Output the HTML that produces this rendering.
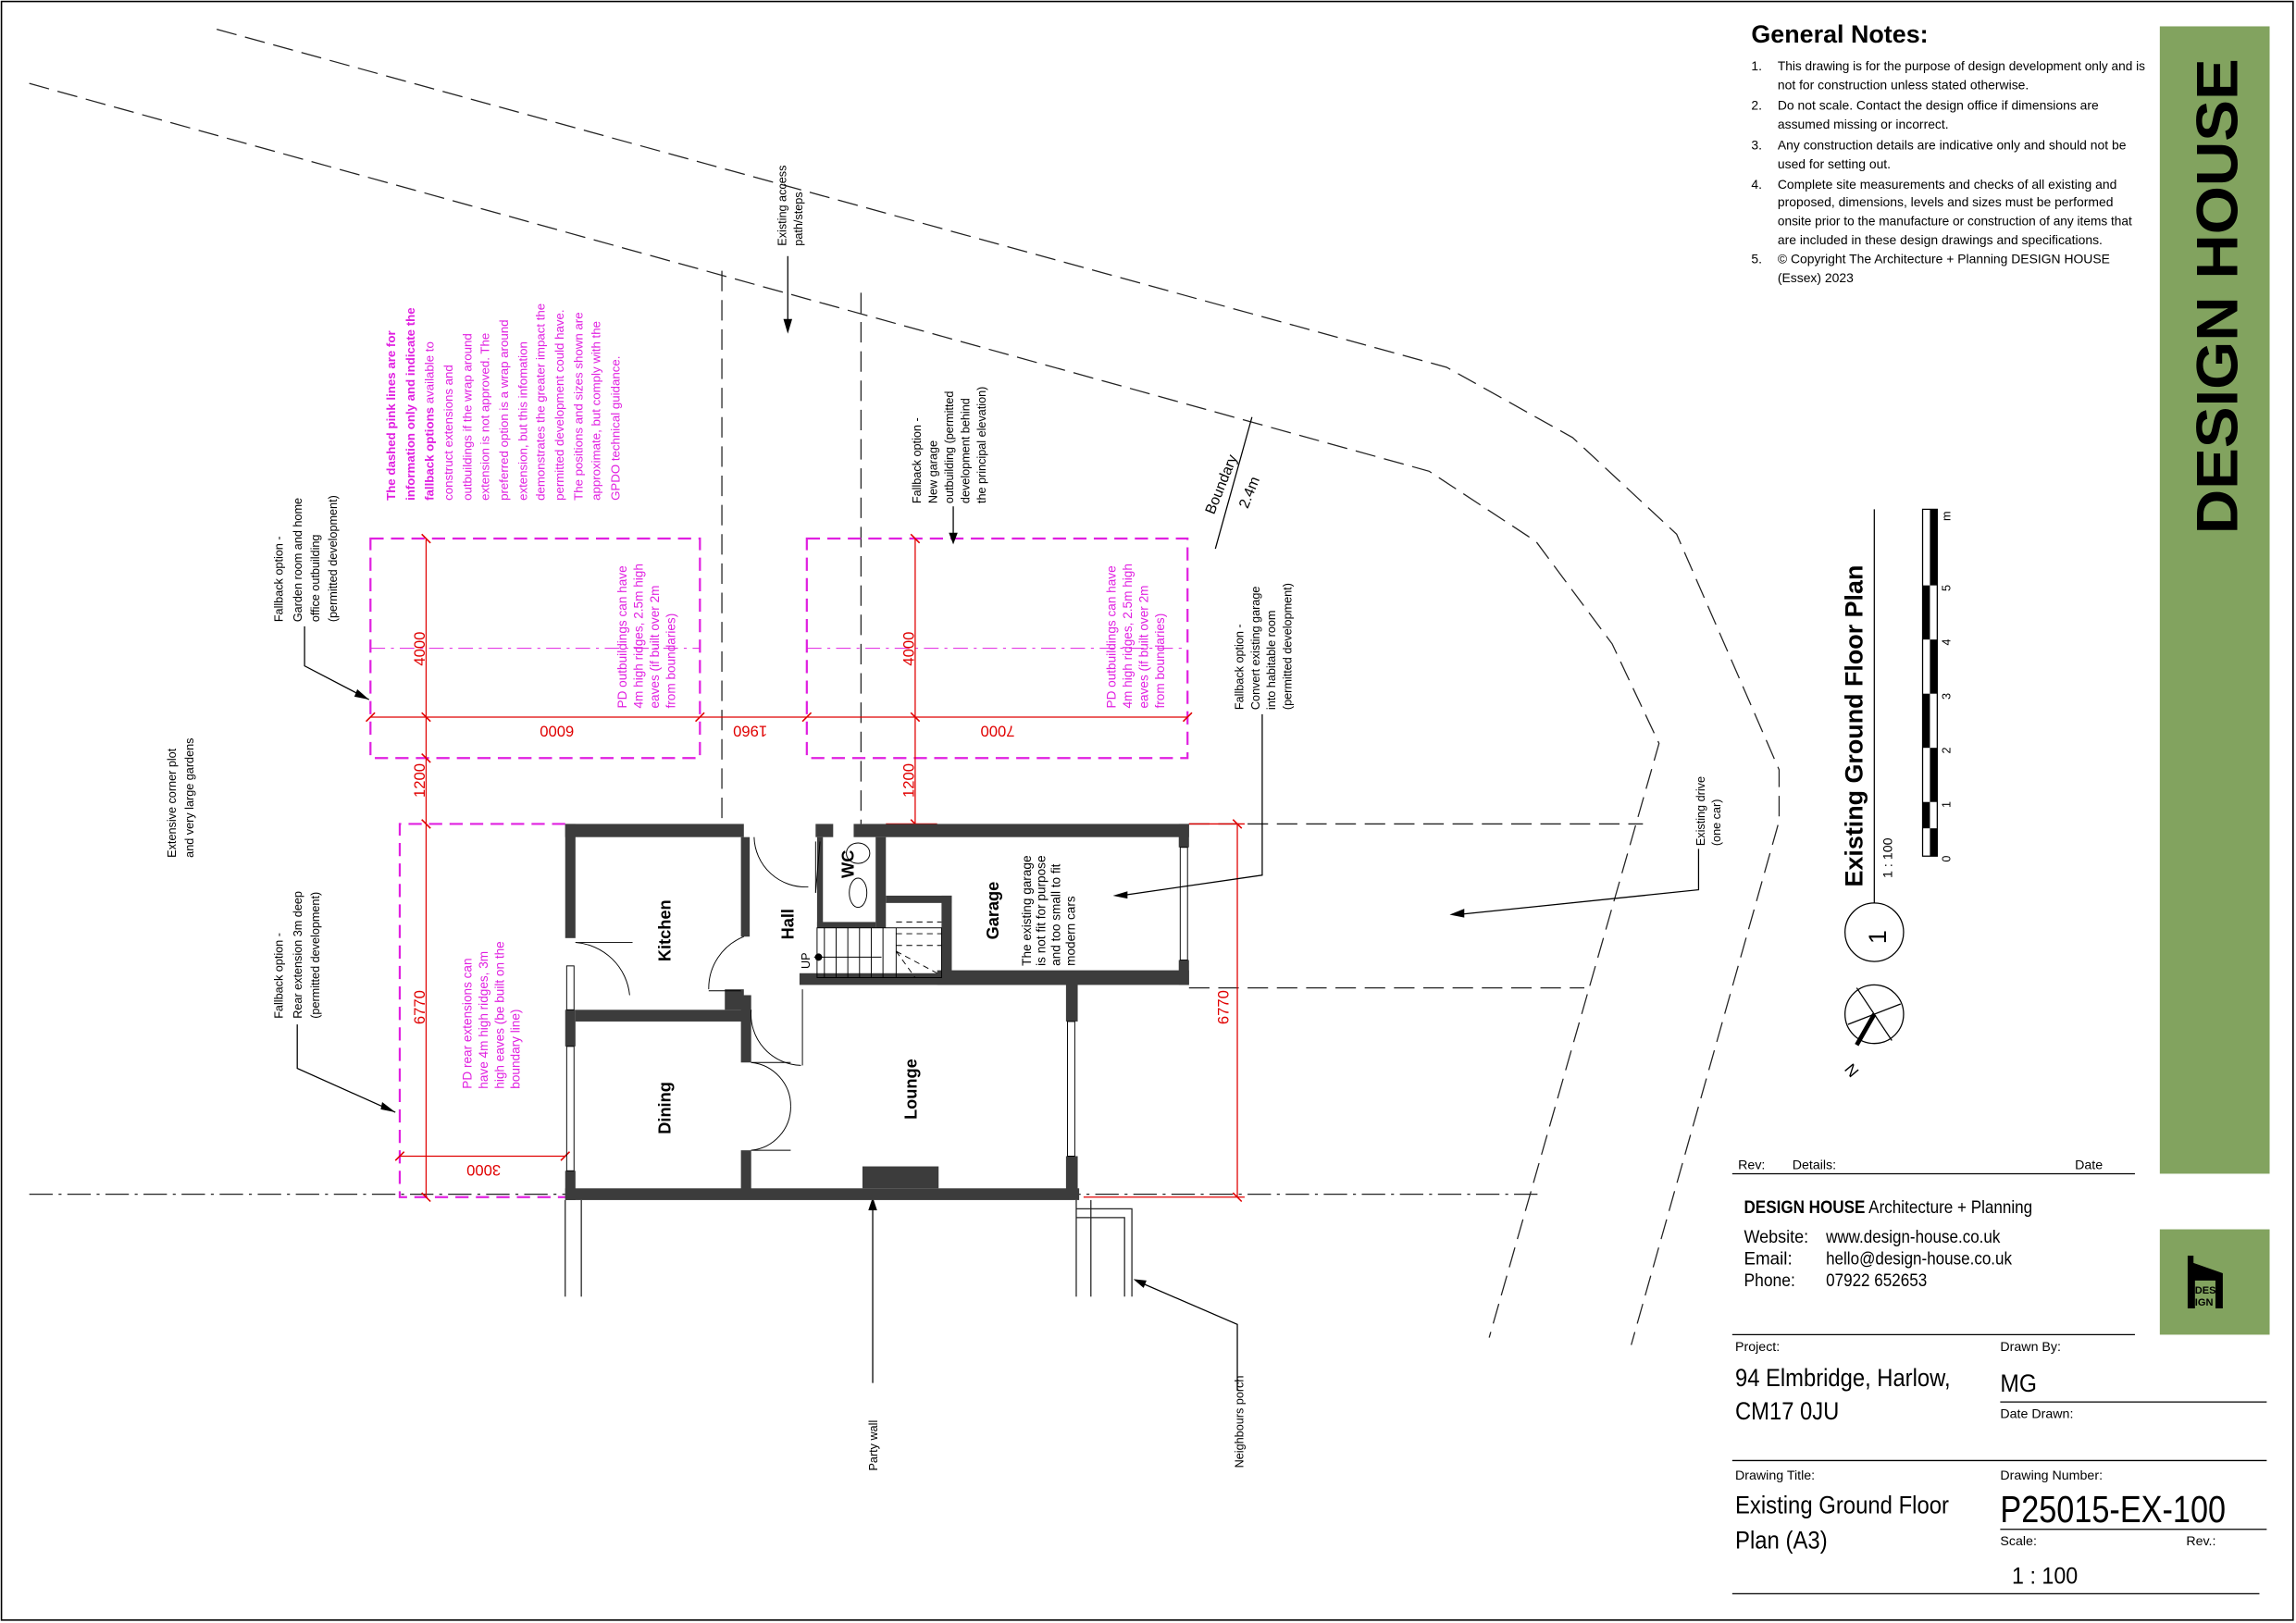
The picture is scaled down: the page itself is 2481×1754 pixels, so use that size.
<!DOCTYPE html>
<html><head><meta charset="utf-8"><style>
html,body{margin:0;padding:0;background:#fff}
svg{display:block}
text{font-family:"Liberation Sans",sans-serif}
.n{font-family:"Liberation Sans Narrow","Liberation Sans",sans-serif;font-size:8px;fill:#000}
.p{font-family:"Liberation Sans Narrow","Liberation Sans",sans-serif;font-size:8.6px;fill:#e020e0}
.r{font-size:10.5px;fill:#e00000}
.g{font-size:8.8px;fill:#000}
.w{fill:#3c3c3c}
.rb{font-weight:bold;font-size:11.5px;fill:#000}
</style></head><body>
<svg width="2481" height="1754" viewBox="0 0 1568 1109" preserveAspectRatio="none" xmlns="http://www.w3.org/2000/svg">
<rect x="0" y="0" width="1568" height="1109" fill="#fff"/>
<rect x="1" y="1" width="1565" height="1106" fill="none" stroke="#000" stroke-width="1"/>

<g fill="none" stroke="#222" stroke-width="0.8" stroke-dasharray="14,6">
<polyline points="148,20 988,251 1074,299 1145,365 1215,526 1215,561 1114,919"/>
<polyline points="20,57 976,322 1049,370 1101,440 1133,508 1017,914"/>
<line x1="493" y1="185" x2="493" y2="563"/>
<line x1="588" y1="200" x2="588" y2="563"/>
<line x1="812" y1="563" x2="1122" y2="563"/>
<line x1="812" y1="675" x2="1082" y2="675"/>
</g>
<line x1="20" y1="816" x2="1052" y2="816" stroke="#222" stroke-width="0.8" stroke-dasharray="16,4,2,4"/>

<g stroke="#222" stroke-width="0.8" fill="none">
<line x1="386" y1="820" x2="386" y2="886"/><line x1="397" y1="820" x2="397" y2="886"/>
<line x1="735" y1="820" x2="735" y2="886"/><line x1="745" y1="820" x2="745" y2="886"/>
<polyline points="735,826 773,826 773,886"/><polyline points="735,832 768,832 768,886"/>
</g>

<g fill="none" stroke="#e020e0" stroke-width="1.4" stroke-dasharray="9,5">
<rect x="253" y="368" width="225" height="150"/>
<rect x="551" y="368" width="260" height="150"/>
<polyline points="386,563 273,563 273,818 386,818"/>
</g>
<g stroke="#e020e0" stroke-width="0.6" stroke-dasharray="10,4,2,4">
<line x1="253" y1="443" x2="478" y2="443"/><line x1="551" y1="443" x2="811" y2="443"/>
</g>

<g stroke="#e00000" stroke-width="0.8">
<line x1="291" y1="368" x2="291" y2="818"/>
<line x1="625" y1="368" x2="625" y2="563"/>
<line x1="845" y1="563" x2="845" y2="818"/>
<line x1="253" y1="490" x2="811" y2="490"/>
<line x1="273" y1="790" x2="386" y2="790"/>
<line x1="812" y1="563" x2="850" y2="563"/><line x1="740" y1="818" x2="850" y2="818"/>
<line x1="605" y1="563" x2="640" y2="563"/>
</g>
<g stroke="#e00000" stroke-width="1">
<line x1="288" y1="365" x2="294" y2="371"/><line x1="288" y1="487" x2="294" y2="493"/><line x1="288" y1="515" x2="294" y2="521"/><line x1="288" y1="560" x2="294" y2="566"/><line x1="288" y1="815" x2="294" y2="821"/>
<line x1="622" y1="365" x2="628" y2="371"/><line x1="622" y1="487" x2="628" y2="493"/><line x1="622" y1="560" x2="628" y2="566"/>
<line x1="842" y1="560" x2="848" y2="566"/><line x1="842" y1="815" x2="848" y2="821"/>
<line x1="250" y1="493" x2="256" y2="487"/><line x1="475" y1="493" x2="481" y2="487"/><line x1="548" y1="493" x2="554" y2="487"/><line x1="808" y1="493" x2="814" y2="487"/>
<line x1="270" y1="793" x2="276" y2="787"/><line x1="383" y1="793" x2="389" y2="787"/>
</g>
<g class="r">
<text transform="translate(290,455) rotate(-90)">4000</text>
<text transform="translate(624,455) rotate(-90)">4000</text>
<text transform="translate(290,545) rotate(-90)">1200</text>
<text transform="translate(624,545) rotate(-90)">1200</text>
<text transform="translate(290,700) rotate(-90)">6770</text>
<text transform="translate(839,700) rotate(-90)">6770</text>
<text transform="translate(392,496) rotate(180)">6000</text>
<text transform="translate(693,496) rotate(180)">7000</text>
<text transform="translate(524,496) rotate(180)">1960</text>
<text transform="translate(342,796) rotate(180)">3000</text>
</g>

<g class="p" style="font-size:8.4px">
<text transform="translate(270,342) rotate(-90)" font-weight="bold">The dashed pink lines are for</text>
<text transform="translate(283,342) rotate(-90)" font-weight="bold">information only and indicate the</text>
<text transform="translate(296,342) rotate(-90)"><tspan font-weight="bold">fallback options</tspan> available to</text>
<text transform="translate(309,342) rotate(-90)">construct extensions and</text>
<text transform="translate(322,342) rotate(-90)">outbuildings if the wrap around</text>
<text transform="translate(334,342) rotate(-90)">extension is not approved. The</text>
<text transform="translate(347,342) rotate(-90)">preferred option is a wrap around</text>
<text transform="translate(360,342) rotate(-90)">extension, but this infomation</text>
<text transform="translate(372,342) rotate(-90)">demonstrates the greater impact the</text>
<text transform="translate(385,342) rotate(-90)">permitted development could have.</text>
<text transform="translate(398,342) rotate(-90)">The positions and sizes shown are</text>
<text transform="translate(410,342) rotate(-90)">approximate, but comply with the</text>
<text transform="translate(423,342) rotate(-90)">GPDO technical guidance.</text>
</g>
<g class="p">
<text transform="translate(428,484) rotate(-90)">PD outbuildings can have</text>
<text transform="translate(439,484) rotate(-90)">4m high ridges, 2.5m high</text>
<text transform="translate(450,484) rotate(-90)">eaves (if built over 2m</text>
<text transform="translate(461,484) rotate(-90)">from boundaries)</text>
<text transform="translate(762,484) rotate(-90)">PD outbuildings can have</text>
<text transform="translate(773,484) rotate(-90)">4m high ridges, 2.5m high</text>
<text transform="translate(784,484) rotate(-90)">eaves (if built over 2m</text>
<text transform="translate(795,484) rotate(-90)">from boundaries)</text>
<text transform="translate(322,744) rotate(-90)">PD rear extensions can</text>
<text transform="translate(333,744) rotate(-90)">have 4m high ridges, 3m</text>
<text transform="translate(344,744) rotate(-90)">high eaves (be built on the</text>
<text transform="translate(355,744) rotate(-90)">boundary line)</text>
</g>

<g class="n">
<text transform="translate(537,168) rotate(-90)">Existing access</text>
<text transform="translate(548,168) rotate(-90)">path/steps</text>
<text transform="translate(629,344) rotate(-90)">Fallback option -</text>
<text transform="translate(640,344) rotate(-90)">New garage</text>
<text transform="translate(651,344) rotate(-90)">outbuilding (permitted</text>
<text transform="translate(662,344) rotate(-90)">development behind</text>
<text transform="translate(673,344) rotate(-90)">the principal elevation)</text>
<text transform="translate(193,425) rotate(-90)">Fallback option -</text>
<text transform="translate(206,425) rotate(-90)">Garden room and home</text>
<text transform="translate(218,425) rotate(-90)">office outbuilding</text>
<text transform="translate(230,425) rotate(-90)">(permitted development)</text>
<text transform="translate(120,586) rotate(-90)">Extensive corner plot</text>
<text transform="translate(132,586) rotate(-90)">and very large gardens</text>
<text transform="translate(193,696) rotate(-90)">Fallback option -</text>
<text transform="translate(206,696) rotate(-90)">Rear extension 3m deep</text>
<text transform="translate(218,696) rotate(-90)">(permitted development)</text>
<text transform="translate(849,485) rotate(-90)">Fallback option -</text>
<text transform="translate(860,485) rotate(-90)">Convert existing garage</text>
<text transform="translate(871,485) rotate(-90)">into habitable room</text>
<text transform="translate(882,485) rotate(-90)">(permitted development)</text>
<text transform="translate(1164,578) rotate(-90)">Existing drive</text>
<text transform="translate(1175,578) rotate(-90)">(one car)</text>
<text transform="translate(599,1005) rotate(-90)">Party wall</text>
<text transform="translate(849,1003) rotate(-90)">Neighbours porch</text>
<text transform="translate(829,352) rotate(-68)" style="font-size:10px">Boundary</text>
<text transform="translate(852,348) rotate(-68)" style="font-size:10px">2.4m</text>
</g>
<g stroke="#000" stroke-width="0.8" fill="none">
<polyline points="208,428 208,455 252,478"/>
<polyline points="203,700 203,730 270,760"/>
<polyline points="538,175 538,222"/>
<polyline points="651,346 651,368"/>
<polyline points="862,488 862,598 765,612"/>
<polyline points="1160,580 1160,608 995,625"/>
<line x1="596" y1="945" x2="596" y2="822"/>
<polyline points="845,950 845,905 778,876"/>
<line x1="830" y1="375" x2="855" y2="285"/>
</g>
<g fill="#000">
<polygon points="252,478 244,471 242,476"/>
<polygon points="270,760 261,753 260,758"/>
<polygon points="538,228 535,218 541,218"/>
<polygon points="651,372 648,364 654,364"/>
<polygon points="760,612 770,609 770,614"/>
<polygon points="990,625 1000,621 1000,627"/>
<polygon points="596,818 593,827 599,827"/>
<polygon points="774,874 783,875 781,880"/>
</g>

<g class="w">
<rect x="386" y="563" width="122" height="9"/>
<rect x="557" y="563" width="12" height="9"/>
<rect x="583" y="563" width="229" height="9"/>
<rect x="386" y="563" width="7" height="78"/>
<rect x="386" y="690" width="7" height="25"/>
<rect x="386" y="800" width="7" height="20"/>
<rect x="386" y="812" width="351" height="8"/>
<rect x="589" y="797" width="52" height="15"/>
<rect x="393" y="690" width="115" height="8"/>
<rect x="495" y="676" width="13" height="14"/>
<rect x="506" y="572" width="6" height="68"/>
<rect x="506" y="680" width="7" height="46"/>
<rect x="506" y="786" width="7" height="28"/>
<rect x="558" y="572" width="4" height="62"/>
<rect x="558" y="630" width="40" height="4"/>
<rect x="598" y="572" width="7" height="62"/>
<rect x="605" y="612" width="45" height="5"/>
<rect x="643" y="612" width="7" height="60"/>
<rect x="546" y="665" width="190" height="8"/>
<rect x="640" y="663" width="172" height="10"/>
<rect x="728" y="672" width="8" height="26"/>
<rect x="728" y="790" width="8" height="25"/>
<rect x="805" y="563" width="7" height="16"/>
<rect x="805" y="656" width="7" height="17"/>
</g>
<g fill="none" stroke="#000" stroke-width="0.6">
<rect x="387" y="660" width="5" height="30"/><rect x="387" y="715" width="5" height="85"/>
<rect x="729" y="698" width="5" height="92"/><rect x="806" y="579" width="5" height="77"/>
<path d="M393,644 A40,40 0 0 1 430,680"/><line x1="393" y1="644" x2="432" y2="644"/>
<path d="M508,640 A38,38 0 0 0 484,676"/><line x1="484" y1="677" x2="506" y2="677"/>
<path d="M513,690 A35,35 0 0 0 547,728"/><line x1="548" y1="676" x2="548" y2="728"/>
<path d="M513,726 A30,30 0 0 1 540,756"/><path d="M513,786 A30,30 0 0 0 540,756"/>
<line x1="513" y1="726" x2="540" y2="726"/><line x1="513" y1="786" x2="540" y2="786"/>
<path d="M515,572 A35,35 0 0 0 552,606"/>
<line x1="557" y1="575" x2="557" y2="610"/><line x1="560" y1="575" x2="557" y2="610"/>
<rect x="558" y="634" width="85" height="34"/>
<line x1="563" y1="634" x2="563" y2="668"/><line x1="571" y1="634" x2="571" y2="668"/><line x1="579" y1="634" x2="579" y2="668"/><line x1="587" y1="634" x2="587" y2="668"/><line x1="595" y1="634" x2="595" y2="668"/><line x1="603" y1="634" x2="603" y2="668"/>
<line x1="612" y1="634" x2="612" y2="668"/>
<line x1="556" y1="654" x2="602" y2="654"/>
<ellipse cx="586" cy="610" rx="6" ry="10"/>
<ellipse cx="586" cy="583" rx="8" ry="7"/>
</g>
<g stroke="#000" stroke-width="0.6" stroke-dasharray="4,3" fill="none">
<line x1="612" y1="630" x2="643" y2="630"/><line x1="612" y1="638" x2="643" y2="638"/><line x1="612" y1="646" x2="643" y2="646"/>
<line x1="612" y1="650" x2="640" y2="665"/><line x1="612" y1="650" x2="625" y2="668"/>
</g>
<circle cx="559" cy="654" r="2.5" fill="#000"/>

<g class="rb">
<text transform="translate(458,657) rotate(-90)">Kitchen</text>
<text transform="translate(542,642) rotate(-90)">Hall</text>
<text transform="translate(583,600) rotate(-90)">WC</text>
<text transform="translate(682,642) rotate(-90)">Garage</text>
<text transform="translate(626,765) rotate(-90)">Lounge</text>
<text transform="translate(458,775) rotate(-90)">Dining</text>
</g>
<text transform="translate(553,662) rotate(-90)" style="font-size:8px">UP</text>
<g style="font-size:8.6px">
<text transform="translate(704,660) rotate(-90)">The existing garage</text>
<text transform="translate(714,660) rotate(-90)">is not fit for purpose</text>
<text transform="translate(724,660) rotate(-90)">and too small to fit</text>
<text transform="translate(734,660) rotate(-90)">modern cars</text>
</g>

<text transform="translate(1272,606) rotate(-90)" style="font-size:17px;font-weight:bold">Existing Ground Floor Plan</text>
<line x1="1280" y1="348" x2="1280" y2="617" stroke="#000" stroke-width="0.8"/>
<text transform="translate(1292,600) rotate(-90)" style="font-size:9px">1 : 100</text>
<circle cx="1280" cy="637" r="20" fill="none" stroke="#000" stroke-width="0.8"/>
<text transform="translate(1288,645) rotate(-90)" style="font-size:17px">1</text>
<circle cx="1280" cy="693" r="20" fill="none" stroke="#000" stroke-width="0.8"/>
<line x1="1268" y1="675" x2="1292" y2="711" stroke="#000" stroke-width="0.8"/>
<line x1="1262" y1="700" x2="1298" y2="686" stroke="#000" stroke-width="0.8"/>
<line x1="1280" y1="693" x2="1268" y2="714" stroke="#000" stroke-width="3"/>
<text transform="translate(1270,732) rotate(-130)" style="font-size:11px">N</text>
<rect x="1313" y="348" width="10" height="237" fill="#fff" stroke="#000" stroke-width="0.8"/>
<g fill="#000">
<rect x="1318" y="566" width="5" height="19"/><rect x="1313" y="548" width="5" height="18"/>
<rect x="1318" y="511" width="5" height="37"/><rect x="1313" y="474" width="5" height="37"/>
<rect x="1318" y="437" width="5" height="37"/><rect x="1313" y="400" width="5" height="37"/>
<rect x="1318" y="348" width="5" height="52"/>
</g>
<g style="font-size:8px">
<text transform="translate(1332,589) rotate(-90)">0</text><text transform="translate(1332,552) rotate(-90)">1</text>
<text transform="translate(1332,515) rotate(-90)">2</text><text transform="translate(1332,478) rotate(-90)">3</text>
<text transform="translate(1332,441) rotate(-90)">4</text><text transform="translate(1332,404) rotate(-90)">5</text>
<text transform="translate(1332,356) rotate(-90)">m</text>
</g>

<text x="1196" y="29" style="font-size:17px;font-weight:bold">General Notes:</text>
<g class="g">
<text x="1196" y="48">1.</text><text x="1214" y="48" textLength="251" lengthAdjust="spacingAndGlyphs">This drawing is for the purpose of design development only and is</text>
<text x="1214" y="61">not for construction unless stated otherwise.</text>
<text x="1196" y="75">2.</text><text x="1214" y="75">Do not scale. Contact the design office if dimensions are</text>
<text x="1214" y="88">assumed missing or incorrect.</text>
<text x="1196" y="102">3.</text><text x="1214" y="102">Any construction details are indicative only and should not be</text>
<text x="1214" y="115">used for setting out.</text>
<text x="1196" y="129">4.</text><text x="1214" y="129">Complete site measurements and checks of all existing and</text>
<text x="1214" y="141">proposed, dimensions, levels and sizes must be performed</text>
<text x="1214" y="154" textLength="242" lengthAdjust="spacingAndGlyphs">onsite prior to the manufacture or construction of any items that</text>
<text x="1214" y="167">are included in these design drawings and specifications.</text>
<text x="1196" y="180">5.</text><text x="1214" y="180">© Copyright The Architecture + Planning DESIGN HOUSE</text>
<text x="1214" y="193">(Essex) 2023</text>
</g>

<rect x="1475" y="18" width="75" height="784" fill="#82a35f"/>
<text transform="translate(1528,365) rotate(-90)" textLength="325" lengthAdjust="spacingAndGlyphs" style="font-size:40px;font-weight:bold;fill:#000">DESIGN HOUSE</text>
<rect x="1475" y="840" width="75" height="72" fill="#82a35f"/>
<path d="M1494,858 h4 v5 l20,7 v24 h-5 v-19 h-14 v19 h-5 z" fill="#000"/>
<text x="1499" y="884" style="font-size:7px;font-weight:bold">DES</text>
<text x="1499" y="892" style="font-size:7px;font-weight:bold">IGN</text>

<g stroke="#000" stroke-width="0.8">
<line x1="1183" y1="802" x2="1458" y2="802"/>
<line x1="1183" y1="912" x2="1458" y2="912"/>
<line x1="1366" y1="958" x2="1548" y2="958"/>
<line x1="1183" y1="998" x2="1548" y2="998"/>
<line x1="1366" y1="1045" x2="1548" y2="1045"/>
<line x1="1183" y1="1089" x2="1543" y2="1089"/>
</g>
<g>
<text x="1187" y="799" style="font-size:9px">Rev:</text>
<text x="1224" y="799" style="font-size:9px">Details:</text>
<text x="1417" y="799" style="font-size:9px">Date</text>
<text x="1191" y="829" style="font-size:12.5px" textLength="197" lengthAdjust="spacingAndGlyphs"><tspan font-weight="bold">DESIGN HOUSE</tspan> Architecture + Planning</text>
<text x="1191" y="849" style="font-size:12.5px" textLength="44" lengthAdjust="spacingAndGlyphs">Website:</text><text x="1247" y="849" style="font-size:12.5px" textLength="119" lengthAdjust="spacingAndGlyphs">www.design-house.co.uk</text>
<text x="1191" y="864" style="font-size:12.5px" textLength="33" lengthAdjust="spacingAndGlyphs">Email:</text><text x="1247" y="864" style="font-size:12.5px" textLength="127" lengthAdjust="spacingAndGlyphs">hello@design-house.co.uk</text>
<text x="1191" y="879" style="font-size:12.5px" textLength="35" lengthAdjust="spacingAndGlyphs">Phone:</text><text x="1247" y="879" style="font-size:12.5px" textLength="69" lengthAdjust="spacingAndGlyphs">07922 652653</text>
<text x="1185" y="923" style="font-size:9px">Project:</text>
<text x="1366" y="923" style="font-size:9px">Drawn By:</text>
<text x="1185" y="947" style="font-size:17px" textLength="147" lengthAdjust="spacingAndGlyphs">94 Elmbridge, Harlow,</text>
<text x="1185" y="970" style="font-size:17px" textLength="71" lengthAdjust="spacingAndGlyphs">CM17 0JU</text>
<text x="1366" y="951" style="font-size:17px" textLength="25" lengthAdjust="spacingAndGlyphs">MG</text>
<text x="1366" y="969" style="font-size:9px">Date Drawn:</text>
<text x="1185" y="1011" style="font-size:9px">Drawing Title:</text>
<text x="1366" y="1011" style="font-size:9px">Drawing Number:</text>
<text x="1185" y="1034" style="font-size:17px" textLength="146" lengthAdjust="spacingAndGlyphs">Existing Ground Floor</text>
<text x="1185" y="1058" style="font-size:17px" textLength="63" lengthAdjust="spacingAndGlyphs">Plan (A3)</text>
<text x="1366" y="1040" style="font-size:26px" textLength="154" lengthAdjust="spacingAndGlyphs">P25015-EX-100</text>
<text x="1366" y="1056" style="font-size:9px">Scale:</text>
<text x="1493" y="1056" style="font-size:9px">Rev.:</text>
<text x="1374" y="1082" style="font-size:16px" textLength="45" lengthAdjust="spacingAndGlyphs">1 : 100</text>
</g>
</svg>
</body></html>
